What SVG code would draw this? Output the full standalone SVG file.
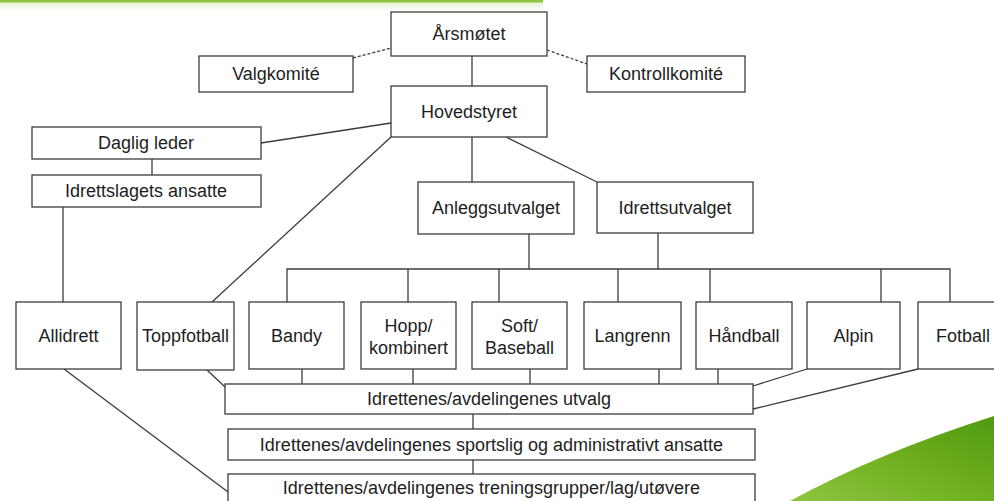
<svg xmlns="http://www.w3.org/2000/svg" width="994" height="501" viewBox="0 0 994 501">
<defs>
<linearGradient id="gtop" x1="0" y1="0" x2="0" y2="1">
<stop offset="0" stop-color="#e6f2d2"/>
<stop offset="1" stop-color="#ffffff"/>
</linearGradient>
<linearGradient id="gsw" x1="0" y1="1" x2="1" y2="0">
<stop offset="0" stop-color="#8cc63e"/>
<stop offset="0.6" stop-color="#6aab1c"/>
<stop offset="1" stop-color="#4f9a10"/>
</linearGradient>
<style>
.b{fill:#fff;stroke:#3c3c3c;stroke-width:1.3}
.t{font-family:"Liberation Sans",Arial,sans-serif;font-size:18px;fill:#1e1e1e;text-anchor:middle}
.c{fill:none;stroke:#3c3c3c;stroke-width:1.3}
.d{fill:none;stroke:#3c3c3c;stroke-width:1.3;stroke-dasharray:3 2}
</style>
</defs>
<rect width="994" height="501" fill="#fff"/>
<rect x="0" y="2" width="543" height="10" fill="url(#gtop)"/>
<rect x="0" y="0" width="543" height="2.5" fill="#8dc63f"/>
<path d="M790 501 Q880 452 994 416 L994 501 Z" fill="url(#gsw)"/>

<g id="connectors">
<line class="d" x1="353" y1="58" x2="391" y2="48"/>
<line class="d" x1="547" y1="50" x2="587" y2="64"/>
<line class="c" x1="472" y1="56" x2="472" y2="86"/>
<line class="c" x1="261" y1="143" x2="391" y2="123"/>
<line class="c" x1="152" y1="159" x2="152" y2="175"/>
<line class="c" x1="63" y1="207" x2="63" y2="302"/>
<line class="c" x1="391" y1="137" x2="212" y2="302"/>
<line class="c" x1="472" y1="137" x2="472" y2="182"/>
<line class="c" x1="506" y1="137" x2="597" y2="182"/>
<line class="c" x1="529" y1="234" x2="529" y2="269"/>
<line class="c" x1="658" y1="233" x2="658" y2="269"/>
<polyline class="c" points="287,302 287,269 950,269 950,302"/>
<line class="c" x1="408" y1="269" x2="408" y2="302"/>
<line class="c" x1="499" y1="269" x2="499" y2="302"/>
<line class="c" x1="618" y1="269" x2="618" y2="302"/>
<line class="c" x1="710" y1="269" x2="710" y2="302"/>
<line class="c" x1="881" y1="269" x2="881" y2="302"/>
<line class="c" x1="206" y1="369" x2="225" y2="387"/>
<line class="c" x1="302" y1="369" x2="302" y2="384"/>
<line class="c" x1="413" y1="369" x2="413" y2="384"/>
<line class="c" x1="530" y1="369" x2="530" y2="384"/>
<line class="c" x1="659" y1="369" x2="659" y2="384"/>
<line class="c" x1="718" y1="369" x2="718" y2="384"/>
<line class="c" x1="807" y1="369" x2="753" y2="386"/>
<line class="c" x1="918" y1="369" x2="753" y2="409"/>
<line class="c" x1="473" y1="414" x2="473" y2="429"/>
<line class="c" x1="473" y1="460" x2="473" y2="474"/>
<line class="c" x1="64" y1="369" x2="228" y2="492"/>
</g>

<g id="arsmotet"><rect class="b" x="391" y="12" width="156" height="44"/><text class="t" x="469" y="40">Årsmøtet</text></g>
<g id="valgkomite"><rect class="b" x="199" y="56" width="154" height="36"/><text class="t" x="276" y="80">Valgkomité</text></g>
<g id="kontrollkomite"><rect class="b" x="587" y="56" width="158" height="36"/><text class="t" x="666" y="80">Kontrollkomité</text></g>
<g id="hovedstyret"><rect class="b" x="391" y="86" width="156" height="51"/><text class="t" x="469" y="118">Hovedstyret</text></g>
<g id="dagligleder"><rect class="b" x="32" y="127" width="229" height="32"/><text class="t" x="146" y="149">Daglig leder</text></g>
<g id="ansatte"><rect class="b" x="32" y="175" width="229" height="32"/><text class="t" x="146" y="197">Idrettslagets ansatte</text></g>
<g id="anleggsutvalget"><rect class="b" x="418" y="182" width="156" height="52"/><text class="t" x="496" y="214">Anleggsutvalget</text></g>
<g id="idrettsutvalget"><rect class="b" x="597" y="182" width="156" height="51"/><text class="t" x="675" y="214">Idrettsutvalget</text></g>
<g id="allidrett"><rect class="b" x="16" y="302" width="105" height="67"/><text class="t" x="68.5" y="342">Allidrett</text></g>
<g id="toppfotball"><rect class="b" x="137" y="302" width="97" height="68"/><text class="t" x="185.5" y="342">Toppfotball</text></g>
<g id="bandy"><rect class="b" x="249" y="302" width="95" height="67"/><text class="t" x="296.5" y="342">Bandy</text></g>
<g id="hopp"><rect class="b" x="361" y="302" width="95" height="67"/><text class="t" x="408.5" y="332">Hopp/</text><text class="t" x="408.5" y="354">kombinert</text></g>
<g id="soft"><rect class="b" x="472" y="302" width="95" height="67"/><text class="t" x="519.5" y="332">Soft/</text><text class="t" x="519.5" y="354">Baseball</text></g>
<g id="langrenn"><rect class="b" x="584" y="302" width="97" height="67"/><text class="t" x="632.5" y="342">Langrenn</text></g>
<g id="handball"><rect class="b" x="696" y="302" width="96" height="67"/><text class="t" x="744" y="342">Håndball</text></g>
<g id="alpin"><rect class="b" x="807" y="302" width="93" height="67"/><text class="t" x="853.5" y="342">Alpin</text></g>
<g id="fotball"><rect class="b" x="918" y="302" width="90" height="67"/><text class="t" x="963" y="342">Fotball</text></g>
<g id="utvalg"><rect class="b" x="225" y="384" width="528" height="30"/><text class="t" x="489" y="405">Idrettenes/avdelingenes utvalg</text></g>
<g id="sportslig"><rect class="b" x="228" y="429" width="527" height="31"/><text class="t" x="491.5" y="451">Idrettenes/avdelingenes sportslig og administrativt ansatte</text></g>
<g id="treningsgrupper"><rect class="b" x="228" y="474" width="527" height="30"/><text class="t" x="491.5" y="494">Idrettenes/avdelingenes treningsgrupper/lag/utøvere</text></g>
</svg>
